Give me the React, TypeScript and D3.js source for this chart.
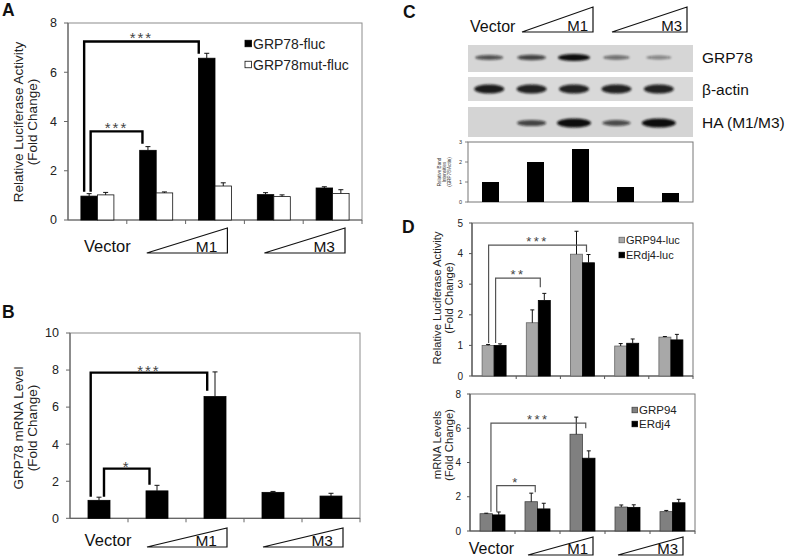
import React from 'react';
import * as d3 from 'd3';

const FONT = '"Liberation Sans", Arial, Helvetica, sans-serif';
const groups = ['Vector', 'M1-low', 'M1-high', 'M3-low', 'M3-high'];

// Panel A: luciferase
const aFluc = [0.97, 2.83, 6.57, 1.03, 1.3];
const aFlucErr = [0.1, 0.15, 0.2, 0.08, 0.05];
const aMut = [1.02, 1.1, 1.38, 0.95, 1.08];
const aMutErr = [0.1, 0.04, 0.13, 0.07, 0.15];
const aTicks = [0, 2, 4, 6, 8];

// Panel B: GRP78 mRNA
const bMrna = [0.97, 1.48, 6.57, 1.4, 1.2];
const bErr = [0.17, 0.3, 1.33, 0.05, 0.15];
const bTicks = [0, 2, 4, 6, 8, 10];

// Panel C: band intensities
const cBand = [1.0, 2.0, 2.65, 0.75, 0.45];
const cTicks = [0, 1, 2, 3];
const grp78Blot = [0.5, 0.6, 1.0, 0.3, 0.15];
const actinBlot = [0.9, 0.85, 0.85, 0.85, 0.85];
const haBlot = [0, 0.6, 1.0, 0.55, 1.0];

// Panel D top: luciferase
const dGrp94Luc = [1.0, 1.74, 3.98, 0.98, 1.27];
const dGrp94LucErr = [0.03, 0.42, 0.75, 0.08, 0.02];
const dErdj4Luc = [1.0, 2.47, 3.7, 1.07, 1.18];
const dErdj4LucErr = [0.05, 0.23, 0.27, 0.14, 0.18];
const dTopTicks = [0, 1, 2, 3, 4, 5];

// Panel D bottom: mRNA
const dGrp94 = [1.01, 1.71, 5.65, 1.4, 1.13];
const dGrp94Err = [0.03, 0.5, 1.0, 0.12, 0.07];
const dErdj4 = [0.94, 1.29, 4.25, 1.38, 1.65];
const dErdj4Err = [0.17, 0.33, 0.43, 0.15, 0.2];
const dBotTicks = [0, 2, 4, 6, 8];

type Series = { values: number[]; errors?: number[]; fill: string; stroke: string };
type Bracket = { a: [number, number, number]; b: [number, number, number]; level: number; aEnd: number; bEnd: number; label: string };
type Legend = { x: number; y: number; gap: number; font: number; size: number; items: { label: string; fill: string; stroke: string }[] };

interface PanelCfg {
  x0: number; x1: number; yTop: number; yBot: number; max: number; ticks: number[];
  series: Series[]; barW: number; tickFont: number; tickGap: number; tickLen: number; xTickLen: number;
  brackets: Bracket[]; bStroke: string; bWidth: number; starFont: number; starColor: string; starDy: number; starSpacing: number;
  frame: string; axis: string; capW: number;
  title: string[]; titleX: number[]; titleY: number; titleFont: number;
  legend?: Legend;
  xLabels?: { vectorDx: number; baseline: number; font: number; top: number; inL: number; inR: number; textGap: number };
}

function BarPanel({ c }: { c: PanelCfg }) {
  const x = d3.scaleBand<string>().domain(groups).range([c.x0, c.x1]);
  const y = d3.scaleLinear().domain([0, c.max]).range([c.yBot, c.yTop]);
  const n = c.series.length;
  const bw = x.bandwidth();
  const barLeft = (gi: number, si: number) => (x(groups[gi]) as number) + bw / 2 - (n * c.barW) / 2 + si * c.barW;
  const barCenter = (gi: number, si: number) => barLeft(gi, si) + c.barW / 2;
  const bandStart = (gi: number) => x(groups[gi]) as number;
  return (
    <g fontFamily={FONT}>
      <rect x={c.x0} y={c.yTop} width={c.x1 - c.x0} height={c.yBot - c.yTop} fill="none" stroke={c.frame} strokeWidth={1} />
      <line x1={c.x0} x2={c.x0} y1={c.yTop} y2={c.yBot} stroke={c.axis} strokeWidth={1.2} />
      <line x1={c.x0} x2={c.x1} y1={c.yBot} y2={c.yBot} stroke={c.axis} strokeWidth={1.2} />
      {c.ticks.map((t) => (
        <g key={t}>
          <line x1={c.x0 - c.tickLen} x2={c.x0} y1={y(t)} y2={y(t)} stroke={c.axis} strokeWidth={1} />
          <text x={c.x0 - c.tickGap} y={y(t)} dy="0.35em" textAnchor="end" fontSize={c.tickFont} fill="#222">{t}</text>
        </g>
      ))}
      {groups.map((g, gi) => gi > 0 ? (
        <line key={g} x1={bandStart(gi)} x2={bandStart(gi)} y1={c.yBot} y2={c.yBot + c.xTickLen} stroke={c.axis} strokeWidth={1} />
      ) : null)}
      <line x1={c.x1} x2={c.x1} y1={c.yBot} y2={c.yBot + c.xTickLen} stroke={c.axis} strokeWidth={1} />
      {c.series.map((s, si) => (
        <g key={si}>
          {s.values.map((v, gi) => (
            <g key={gi}>
              <rect x={barLeft(gi, si)} y={y(v)} width={c.barW} height={c.yBot - y(v)} fill={s.fill} stroke={s.stroke} strokeWidth={0.8} />
              {s.errors ? (
                <g stroke="#111" strokeWidth={1}>
                  <line x1={barCenter(gi, si)} x2={barCenter(gi, si)} y1={y(v)} y2={y(v + s.errors[gi])} />
                  <line x1={barCenter(gi, si) - c.capW / 2} x2={barCenter(gi, si) + c.capW / 2} y1={y(v + s.errors[gi])} y2={y(v + s.errors[gi])} />
                </g>
              ) : null}
            </g>
          ))}
        </g>
      ))}
      {c.brackets.map((b, i) => {
        const xa = barCenter(b.a[0], b.a[1]) + b.a[2];
        const xb = barCenter(b.b[0], b.b[1]) + b.b[2];
        return (
          <g key={i}>
            <path d={`M${xa},${y(b.aEnd)}V${y(b.level)}H${xb}V${y(b.bEnd)}`} fill="none" stroke={c.bStroke} strokeWidth={c.bWidth} />
            <text x={(xa + xb) / 2} y={y(b.level) + c.starDy} textAnchor="middle" fontSize={c.starFont} fill={c.starColor} letterSpacing={c.starSpacing}>{b.label}</text>
          </g>
        );
      })}
      {c.title.map((t, i) => (
        <text key={i} transform={`translate(${c.titleX[i]},${c.titleY}) rotate(-90)`} textAnchor="middle" fontSize={c.titleFont} fill="#222">{t}</text>
      ))}
      {c.legend ? c.legend.items.map((it, i) => (
        <g key={i}>
          <rect x={c.legend!.x} y={c.legend!.y + i * c.legend!.gap - c.legend!.size / 2} width={c.legend!.size} height={c.legend!.size} fill={it.fill} stroke={it.stroke} strokeWidth={0.8} />
          <text x={c.legend!.x + c.legend!.size + 1.5} y={c.legend!.y + i * c.legend!.gap} dy="0.36em" fontSize={c.legend!.font} fill="#222">{it.label}</text>
        </g>
      )) : null}
      {c.xLabels ? (() => {
        const L = c.xLabels!;
        const tri = (g1: number, g2: number, label: string) => {
          const l = bandStart(g1) + L.inL;
          const r = bandStart(g2) + bw - L.inR;
          return (
            <g key={label}>
              <path d={`M${l},${L.baseline}L${r},${L.top}V${L.baseline}Z`} fill="white" stroke="#111" strokeWidth={1.2} />
              <text x={r - L.textGap} y={L.baseline - 1.5} textAnchor="end" fontSize={L.font} fill="#111">{label}</text>
            </g>
          );
        };
        return (
          <g>
            <text x={bandStart(0) + bw / 2 + L.vectorDx} y={L.baseline - 1} textAnchor="middle" fontSize={L.font + 1} fill="#111">Vector</text>
            {tri(1, 2, 'M1')}
            {tri(3, 4, 'M3')}
          </g>
        );
      })() : null}
    </g>
  );
}

const panelA: PanelCfg = {
  x0: 68, x1: 362, yTop: 23, yBot: 220, max: 8, ticks: aTicks,
  series: [
    { values: aFluc, errors: aFlucErr, fill: '#000', stroke: '#000' },
    { values: aMut, errors: aMutErr, fill: '#fff', stroke: '#111' },
  ],
  barW: 16.5, tickFont: 12.5, tickGap: 11, tickLen: 4, xTickLen: 4,
  brackets: [
    { a: [0, 0, -5], b: [2, 0, -8], level: 7.25, aEnd: 1.15, bEnd: 6.75, label: '***' },
    { a: [0, 0, 1.5], b: [1, 0, -5.5], level: 3.6, aEnd: 1.15, bEnd: 3.1, label: '***' },
  ],
  bStroke: '#000', bWidth: 2.4, starFont: 15, starColor: '#444', starDy: 2, starSpacing: 2,
  frame: '#8c8c8c', axis: '#666', capW: 5,
  title: ['Relative Luciferase Activity', '(Fold Change)'], titleX: [23, 37], titleY: 122, titleFont: 13.5,
  legend: {
    x: 245, y: 43.5, gap: 21, font: 14, size: 6.5, items: [
      { label: 'GRP78-fluc', fill: '#000', stroke: '#000' },
      { label: 'GRP78mut-fluc', fill: '#fff', stroke: '#111' },
    ],
  },
  xLabels: { vectorDx: 10, baseline: 253, font: 15.5, top: 228, inL: 20, inR: 17, textGap: 10 },
};

const panelB: PanelCfg = {
  x0: 70, x1: 360, yTop: 333, yBot: 518.3, max: 10, ticks: bTicks,
  series: [{ values: bMrna, errors: bErr, fill: '#000', stroke: '#000' }],
  barW: 22, tickFont: 12.5, tickGap: 11, tickLen: 4, xTickLen: 4,
  brackets: [
    { a: [0, 0, -8.3], b: [2, 0, -7.8], level: 7.86, aEnd: 1.16, bEnd: 6.88, label: '***' },
    { a: [0, 0, 5], b: [1, 0, -7.5], level: 2.68, aEnd: 1.16, bEnd: 1.81, label: '*' },
  ],
  bStroke: '#000', bWidth: 2.4, starFont: 15, starColor: '#444', starDy: 3, starSpacing: 2,
  frame: '#8c8c8c', axis: '#666', capW: 5,
  title: ['GRP78 mRNA Level', '(Fold Change)'], titleX: [23, 37], titleY: 428, titleFont: 13.5,
  xLabels: { vectorDx: 9, baseline: 547, font: 15.5, top: 528, inL: 19, inR: 17, textGap: 10 },
};

const panelDTop: PanelCfg = {
  x0: 472, x1: 693, yTop: 223, yBot: 376, max: 5, ticks: dTopTicks,
  series: [
    { values: dGrp94Luc, errors: dGrp94LucErr, fill: '#a8a8a8', stroke: '#666' },
    { values: dErdj4Luc, errors: dErdj4LucErr, fill: '#000', stroke: '#000' },
  ],
  barW: 12, tickFont: 10, tickGap: 9, tickLen: 3, xTickLen: 3,
  brackets: [
    { a: [0, 0, 0.5], b: [2, 1, -2], level: 4.28, aEnd: 1.08, bEnd: 4.05, label: '***' },
    { a: [0, 1, -4.5], b: [1, 1, -4], level: 3.2, aEnd: 1.08, bEnd: 2.9, label: '**' },
  ],
  bStroke: '#555', bWidth: 1.2, starFont: 13, starColor: '#444', starDy: 1, starSpacing: 2.5,
  frame: '#777', axis: '#555', capW: 4,
  title: ['Relative Luciferase Activity', '(Fold Change)'], titleX: [441, 453], titleY: 298, titleFont: 11.2,
  legend: {
    x: 619, y: 240, gap: 15, font: 11, size: 5.5, items: [
      { label: 'GRP94-luc', fill: '#a8a8a8', stroke: '#666' },
      { label: 'ERdj4-luc', fill: '#000', stroke: '#000' },
    ],
  },
};

const panelDBot: PanelCfg = {
  x0: 470, x1: 695, yTop: 394, yBot: 531, max: 8, ticks: dBotTicks,
  series: [
    { values: dGrp94, errors: dGrp94Err, fill: '#808080', stroke: '#444' },
    { values: dErdj4, errors: dErdj4Err, fill: '#000', stroke: '#000' },
  ],
  barW: 12.5, tickFont: 10, tickGap: 9, tickLen: 3, xTickLen: 3,
  brackets: [
    { a: [0, 0, 4.7], b: [2, 1, -3], level: 6.3, aEnd: 1.13, bEnd: 6.0, label: '***' },
    { a: [0, 1, -2], b: [1, 0, 4], level: 2.65, aEnd: 1.13, bEnd: 2.26, label: '*' },
  ],
  bStroke: '#555', bWidth: 1.2, starFont: 13, starColor: '#444', starDy: 1, starSpacing: 2.5,
  frame: '#777', axis: '#555', capW: 4,
  title: ['mRNA Levels', '(Fold Change)'], titleX: [441, 453], titleY: 445, titleFont: 11.3,
  legend: {
    x: 632, y: 410, gap: 14, font: 11.5, size: 5.5, items: [
      { label: 'GRP94', fill: '#808080', stroke: '#444' },
      { label: 'ERdj4', fill: '#000', stroke: '#000' },
    ],
  },
  xLabels: { vectorDx: -1, baseline: 555, font: 15, top: 537, inL: 13, inR: 12, textGap: 5 },
};

function PanelC() {
  const lane = d3.scaleBand<string>().domain(groups).range([468, 680]);
  const lc = (i: number) => (lane(groups[i]) as number) + lane.bandwidth() / 2;
  const qx = d3.scaleBand<string>().domain(groups).range([468, 693]);
  const qy = d3.scaleLinear().domain([0, 3]).range([202, 142]);
  const rows = [
    { y0: 45, y1: 72, cy: 57.5, bg: '#d6d6d6', data: grp78Blot, rx: (v: number) => 12 + 4 * v, ry: (v: number) => 1.6 + 2 * v, label: 'GRP78', ly: 63 },
    { y0: 77, y1: 101, cy: 89, bg: '#d9d9d9', data: actinBlot, rx: () => 15, ry: () => 4.5, label: 'β-actin', ly: 95 },
    { y0: 107, y1: 137, cy: 123, bg: '#d4d4d4', data: haBlot, rx: (v: number) => 11 + 6 * v, ry: (v: number) => 0.8 + 3.8 * v, label: 'HA (M1/M3)', ly: 128 },
  ];
  return (
    <g fontFamily={FONT}>
      <defs>
        <filter id="blur" x="-20%" y="-50%" width="140%" height="200%">
          <feGaussianBlur stdDeviation="1.1" />
        </filter>
      </defs>
      <text x={470} y={32} fontSize={16} fill="#111">Vector</text>
      <path d="M522,32L593,7V32Z" fill="white" stroke="#111" strokeWidth={1.2} />
      <text x={588} y={30.5} textAnchor="end" fontSize={15} fill="#111">M1</text>
      <path d="M612,32L687,7V32Z" fill="white" stroke="#111" strokeWidth={1.2} />
      <text x={682} y={30.5} textAnchor="end" fontSize={15} fill="#111">M3</text>
      {rows.map((r, ri) => (
        <g key={ri}>
          <rect x={468} y={r.y0} width={225} height={r.y1 - r.y0} fill={r.bg} />
          <g filter="url(#blur)">
            {r.data.map((v, i) => v > 0 ? (
              <ellipse key={i} cx={lc(i)} cy={r.cy} rx={r.rx(v)} ry={r.ry(v)} fill="#111" opacity={0.35 + 0.65 * v} />
            ) : null)}
          </g>
          <text x={702} y={r.ly} fontSize={15.5} fill="#111">{r.label}</text>
        </g>
      ))}
      <rect x={468} y={142} width={225} height={60} fill="white" stroke="#777" strokeWidth={1} />
      {cTicks.map((t) => (
        <g key={t}>
          <line x1={465} x2={468} y1={qy(t)} y2={qy(t)} stroke="#666" strokeWidth={0.8} />
          <text x={462} y={qy(t)} dy="0.35em" textAnchor="end" fontSize={5.5} fill="#333">{t}</text>
        </g>
      ))}
      {cBand.map((v, i) => (
        <rect key={i} x={(qx(groups[i]) as number) + qx.bandwidth() / 2 - 8.5} y={qy(v)} width={17} height={202 - qy(v)} fill="#000" />
      ))}
      {['Relative Band', 'Intensities', '(GRP78/Actin)'].map((t, i) => (
        <text key={i} transform={`translate(${441 + i * 5},172) rotate(-90)`} textAnchor="middle" fontSize={4.6} fill="#333">{t}</text>
      ))}
    </g>
  );
}

export default function App() {
  return (
    <svg width={787} height={558} viewBox="0 0 787 558" style={{ position: 'absolute', left: 0, top: 0, background: '#fff' }}>
      <rect width={787} height={558} fill="#fff" />
      <g fontFamily={FONT} fontWeight="bold" fontSize={17.5} fill="#111">
        <text x={2} y={16}>A</text>
        <text x={2} y={318}>B</text>
        <text x={403} y={18}>C</text>
        <text x={402} y={233}>D</text>
      </g>
      <BarPanel c={panelA} />
      <BarPanel c={panelB} />
      <PanelC />
      <BarPanel c={panelDTop} />
      <BarPanel c={panelDBot} />
    </svg>
  );
}
